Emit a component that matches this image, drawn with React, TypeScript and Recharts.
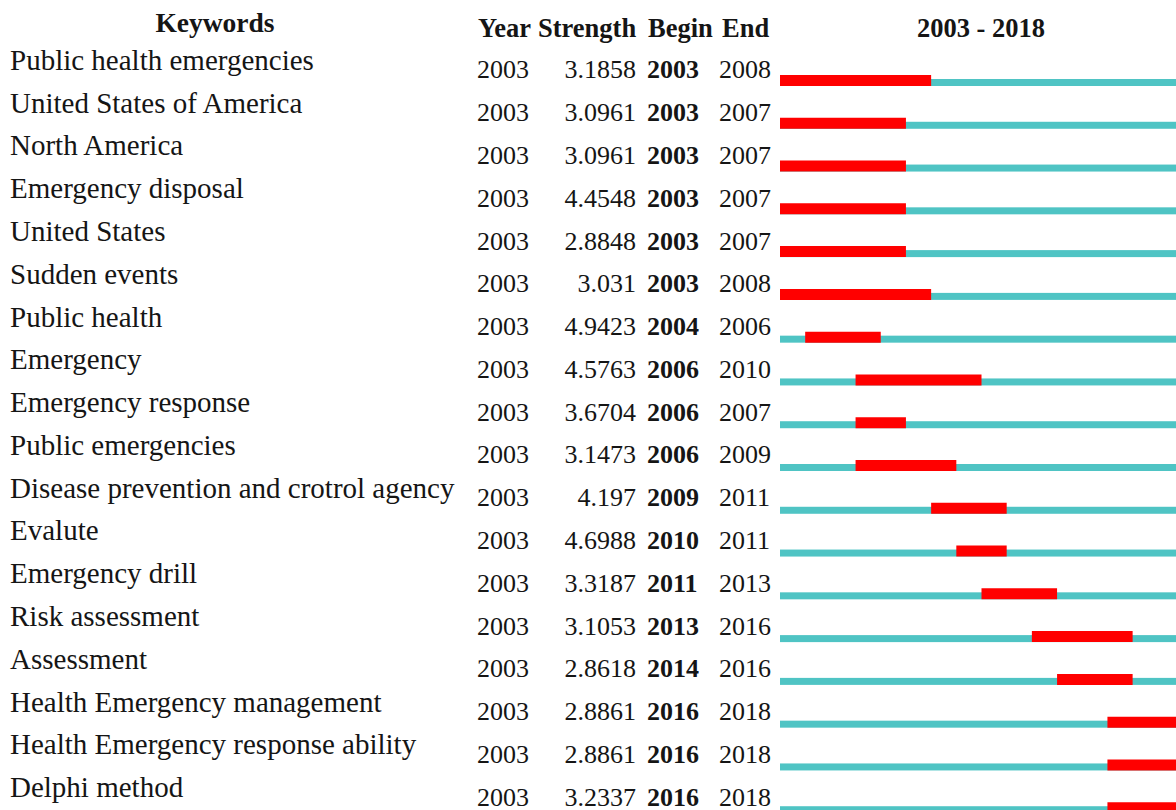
import { BarChart, Bar, XAxis, YAxis } from 'recharts'

const keywords = [
  'Public health emergencies',
  'United States of America',
  'North America',
  'Emergency disposal',
  'United States',
  'Sudden events',
  'Public health',
  'Emergency',
  'Emergency response',
  'Public emergencies',
  'Disease prevention and crotrol agency',
  'Evalute',
  'Emergency drill',
  'Risk assessment',
  'Assessment',
  'Health Emergency management',
  'Health Emergency response ability',
  'Delphi method',
]
const years = [2003, 2003, 2003, 2003, 2003, 2003, 2003, 2003, 2003, 2003, 2003, 2003, 2003, 2003, 2003, 2003, 2003, 2003]
const strengths = ['3.1858', '3.0961', '3.0961', '4.4548', '2.8848', '3.031', '4.9423', '4.5763', '3.6704', '3.1473', '4.197', '4.6988', '3.3187', '3.1053', '2.8618', '2.8861', '2.8861', '3.2337']
const begins = [2003, 2003, 2003, 2003, 2003, 2003, 2004, 2006, 2006, 2006, 2009, 2010, 2011, 2013, 2014, 2016, 2016, 2016]
const ends = [2008, 2007, 2007, 2007, 2007, 2008, 2006, 2010, 2007, 2009, 2011, 2011, 2013, 2016, 2016, 2018, 2018, 2018]
const firstYear = 2003
const lastYear = 2018

const rows = keywords.map((k, i) => ({
  keyword: k,
  year: years[i],
  strength: strengths[i],
  begin: begins[i],
  end: ends[i],
  span: [firstYear, lastYear + 1],
  burst: [begins[i], ends[i] + 1],
}))

const font = '"Liberation Serif", "Times New Roman", serif'
const ink = '#151515'
const teal = '#4fc4c4'
const red = '#ff0000'

function RowTick(props: any) {
  const { y, payload } = props
  const r = rows[payload.index]
  if (!r) return null
  return (
    <g fontFamily={font} fill={ink}>
      <text x={10} y={y - 10.5} fontSize={29}>{r.keyword}</text>
      <text x={477} y={y - 2} fontSize={26}>{r.year}</text>
      <text x={636} y={y - 2} fontSize={26} textAnchor="end">{r.strength}</text>
      <text x={647} y={y - 2} fontSize={26} fontWeight={700}>{r.begin}</text>
      <text x={719} y={y - 2} fontSize={26}>{r.end}</text>
    </g>
  )
}

// teal line sits on the bottom edge of the red burst
function SpanShape(props: any) {
  const { x, y, width, height } = props
  return <rect x={x} y={y + 2} width={width} height={height} fill={teal} />
}

export default function App() {
  return (
    <div style={{ position: 'fixed', left: 0, top: 0, width: 1176, height: 810, overflow: 'hidden', background: '#fff' }}>
      <svg width={1176} height={50} style={{ position: 'absolute', left: 0, top: 0 }}>
        <g fontFamily={font} fill={ink} fontWeight={700} fontSize={26.5}>
          <text x={215} y={32} textAnchor="middle" fontSize={27.5}>Keywords</text>
          <text x={478} y={37}>Year</text>
          <text x={538} y={37}>Strength</text>
          <text x={648} y={37}>Begin</text>
          <text x={722} y={37}>End</text>
          <text x={981} y={37} textAnchor="middle">{`${firstYear} - ${lastYear}`}</text>
        </g>
      </svg>
      <BarChart
        layout="vertical"
        width={1183}
        height={835}
        data={rows}
        margin={{ top: 59, right: 0, bottom: 6, left: 0 }}
        style={{ position: 'absolute', left: 0, top: 0 }}
      >
        <XAxis type="number" domain={[firstYear, lastYear + 1]} hide />
        <YAxis
          yAxisId="rows"
          type="category"
          dataKey="keyword"
          width={780}
          axisLine={false}
          tickLine={false}
          interval={0}
          tick={<RowTick />}
        />
        <YAxis yAxisId="burst" type="category" dataKey="keyword" hide />
        <Bar yAxisId="rows" dataKey="span" fill={teal} barSize={7} shape={<SpanShape />} isAnimationActive={false} />
        <Bar yAxisId="burst" dataKey="burst" fill={red} barSize={11} isAnimationActive={false} />
      </BarChart>
    </div>
  )
}
